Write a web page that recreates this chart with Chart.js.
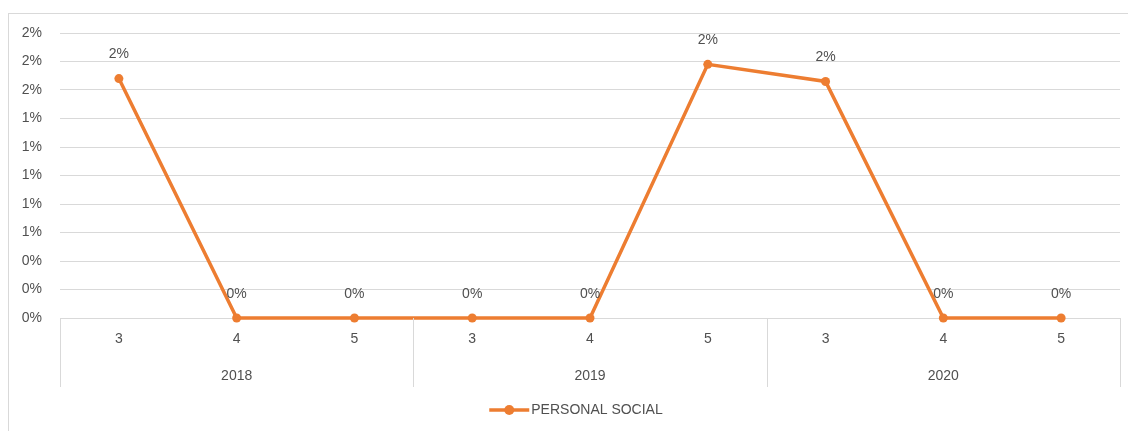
<!DOCTYPE html>
<html>
<head>
<meta charset="utf-8">
<script src="https://cdn.jsdelivr.net/npm/chart.js@4/dist/chart.umd.min.js"></script>
<style>
  html, body { margin: 0; padding: 0; background: #fff; }
  #wrap { width: 1128px; height: 431px; }
</style>
</head>
<body>
<div id="wrap"><canvas id="lineChart"></canvas></div>
<script>
const MONTHS = ["3", "4", "5", "3", "4", "5", "3", "4", "5"];
const YEARS = ["2018", "2019", "2020"];
const YEAR_SPAN = [3, 3, 3];
const PERSONAL_SOCIAL = [1.68, 0, 0, 0, 0, 1.78, 1.66, 0, 0];
const SERIES_NAME = "PERSONAL SOCIAL";

const ORANGE = "#ED7D31";
const GRID = "#d9d9d9";
const TEXT = "#505050";
const FONT = "'Liberation Sans', Arial, sans-serif";

const pct = v => Math.round(v) + "%";

const extras = {
    id: "extras",
    beforeDraw(chart) {
        const ctx = chart.ctx;
        ctx.save();
        ctx.strokeStyle = GRID;
        ctx.lineWidth = 1;
        ctx.strokeRect(8.5, 13.5, 1130, 430);
        ctx.restore();
    },
    afterDraw(chart) {
        const ctx = chart.ctx;
        const x = chart.scales.x;
        const area = chart.chartArea;
        ctx.save();

        // group separators + year labels
        ctx.strokeStyle = GRID;
        ctx.lineWidth = 1;
        ctx.fillStyle = TEXT;
        ctx.font = "14px " + FONT;
        ctx.textAlign = "center";
        ctx.textBaseline = "middle";
        let start = 0;
        const edges = [area.left];
        YEARS.forEach((yr, g) => {
            const end = start + YEAR_SPAN[g] - 1;
            const cx = (x.getPixelForValue(start) + x.getPixelForValue(end)) / 2;
            ctx.fillText(yr, cx, area.bottom + 58);
            if (end < MONTHS.length - 1) {
                edges.push((x.getPixelForValue(end) + x.getPixelForValue(end + 1)) / 2);
            }
            start = end + 1;
        });
        edges.push(area.right);
        edges.forEach(ex => {
            const px = Math.round(ex) + 0.5;
            ctx.beginPath();
            ctx.moveTo(px, area.bottom);
            ctx.lineTo(px, area.bottom + 69);
            ctx.stroke();
        });

        // data labels
        const meta = chart.getDatasetMeta(0);
        meta.data.forEach((pt, i) => {
            ctx.fillText(pct(PERSONAL_SOCIAL[i]), pt.x, pt.y - 24);
        });

        // legend
        const tw = ctx.measureText(SERIES_NAME).width;
        const total = 42 + tw;
        const lx = 576 - total / 2;
        const ly = 410;
        ctx.strokeStyle = ORANGE;
        ctx.lineWidth = 3.5;
        ctx.beginPath();
        ctx.moveTo(lx, ly);
        ctx.lineTo(lx + 40, ly);
        ctx.stroke();
        ctx.fillStyle = ORANGE;
        ctx.beginPath();
        ctx.arc(lx + 20, ly, 5, 0, Math.PI * 2);
        ctx.fill();
        ctx.fillStyle = TEXT;
        ctx.textAlign = "left";
        ctx.fillText(SERIES_NAME, lx + 42, ly);

        ctx.restore();
    }
};

new Chart(document.getElementById("lineChart").getContext("2d"), {
    type: "line",
    data: {
        labels: MONTHS,
        datasets: [{
            label: SERIES_NAME,
            data: PERSONAL_SOCIAL,
            borderColor: ORANGE,
            backgroundColor: ORANGE,
            borderWidth: 3.5,
            pointRadius: 4.5,
            pointBackgroundColor: ORANGE,
            pointBorderWidth: 0,
            tension: 0,
            fill: false,
            clip: false
        }]
    },
    options: {
        responsive: true,
        maintainAspectRatio: false,
        animation: false,
        layout: { padding: { left: 0, top: 33, right: 8, bottom: 0 } },
        plugins: {
            legend: { display: false },
            tooltip: { enabled: false }
        },
        scales: {
            x: {
                offset: true,
                grid: { display: false, drawTicks: false },
                border: { display: true, color: GRID, width: 1 },
                ticks: {
                    color: TEXT,
                    padding: 13,
                    font: { family: FONT, size: 14 },
                    maxRotation: 0
                },
                afterFit(scale) { scale.height = 113; }
            },
            y: {
                min: 0,
                max: 2,
                grid: { color: GRID, lineWidth: 1, drawTicks: false },
                border: { display: false },
                ticks: {
                    stepSize: 0.2,
                    color: TEXT,
                    padding: 18,
                    font: { family: FONT, size: 14 },
                    callback: v => pct(v)
                },
                afterFit(scale) { scale.width = 60; }
            }
        }
    },
    plugins: [extras]
});
</script>
</body>
</html>
